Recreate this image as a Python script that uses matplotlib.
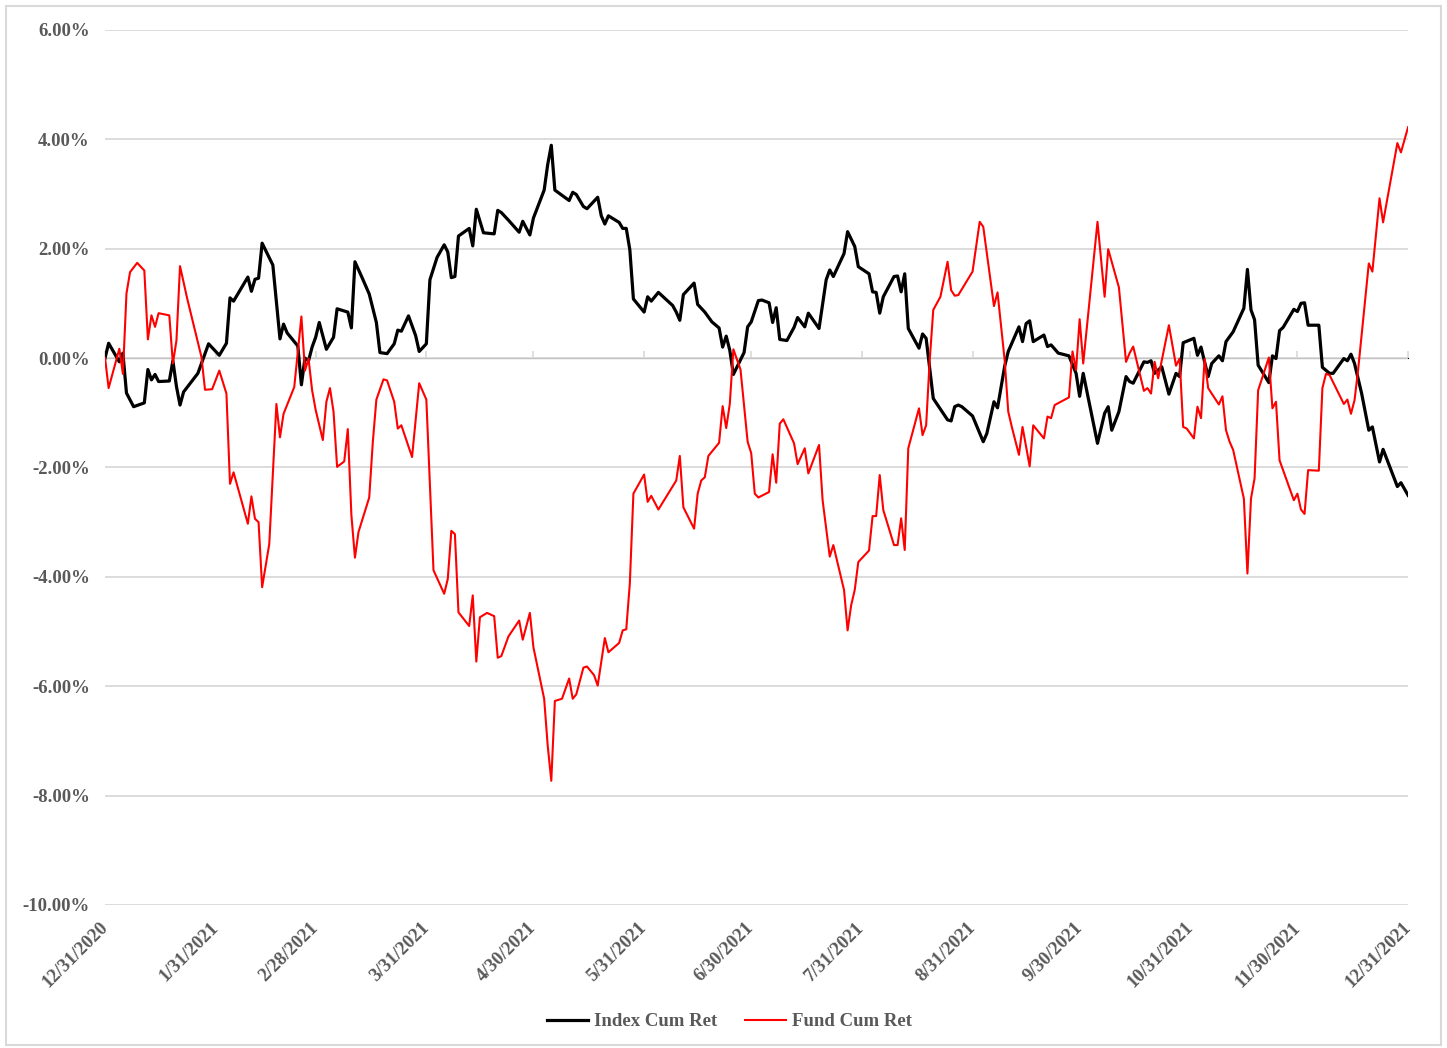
import matplotlib

matplotlib.use("Agg")

import matplotlib.dates as mdates
import matplotlib.pyplot as plt
import matplotlib.transforms as mtransforms
import pandas as pd
from matplotlib.patches import Rectangle
from matplotlib.ticker import FuncFormatter, MultipleLocator

# day offsets from 12/31/2020 and cumulative returns in percent
index_day = [
    0, 1, 4, 5, 6, 8, 11, 12, 13, 14,
    15, 18, 19, 20, 21, 22, 26, 29, 32, 34,
    35, 36, 40, 41, 42, 43, 44, 47, 49, 50,
    51, 54, 55, 56, 57, 58, 59, 60, 62, 64,
    65, 68, 69, 70, 72, 74, 76, 77, 79, 81,
    82, 83, 85, 87, 88, 90, 91, 93, 95, 96,
    97, 98, 99, 102, 103, 104, 106, 109, 110, 111,
    113, 116, 117, 119, 120, 123, 124, 125, 126, 130,
    131, 132, 134, 135, 138, 139, 140, 141, 144, 145,
    146, 147, 148, 151, 152, 153, 155, 159, 160, 161,
    162, 165, 166, 168, 170, 172, 173, 174, 175, 176,
    179, 180, 181, 183, 184, 186, 187, 188, 189, 191,
    193, 194, 196, 197, 200, 202, 203, 204, 207, 208,
    210, 211, 214, 215, 216, 217, 218, 221, 222, 223,
    224, 225, 228, 229, 230, 232, 236, 237, 238, 239,
    240, 243, 246, 247, 249, 250, 252, 253, 256, 257,
    258, 259, 260, 263, 264, 265, 267, 270, 272, 273,
    274, 278, 280, 281, 282, 284, 286, 287, 288, 291,
    292, 293, 294, 296, 298, 300, 301, 302, 305, 306,
    307, 309, 310, 312, 313, 314, 316, 319, 320, 321,
    322, 323, 326, 327, 328, 329, 330, 333, 334, 335,
    336, 337, 340, 341, 343, 344, 347, 348, 349, 350,
    352, 354, 355, 357, 358, 362, 363, 365,
]
index_ret = [
    0.00, 0.27, -0.07, 0.09, -0.64, -0.89, -0.82, -0.21, -0.40, -0.30,
    -0.43, -0.42, -0.05, -0.52, -0.86, -0.62, -0.28, 0.26, 0.05, 0.27,
    1.10, 1.04, 1.48, 1.22, 1.44, 1.46, 2.10, 1.70, 0.35, 0.62,
    0.46, 0.22, -0.49, 0.00, -0.05, 0.20, 0.38, 0.65, 0.16, 0.38,
    0.90, 0.84, 0.55, 1.76, 1.47, 1.17, 0.65, 0.10, 0.08, 0.26,
    0.51, 0.49, 0.77, 0.41, 0.12, 0.26, 1.43, 1.84, 2.07, 1.94,
    1.47, 1.49, 2.23, 2.37, 2.05, 2.72, 2.29, 2.27, 2.70, 2.66,
    2.52, 2.30, 2.50, 2.25, 2.56, 3.07, 3.54, 3.89, 3.07, 2.88,
    3.03, 2.99, 2.77, 2.73, 2.94, 2.60, 2.45, 2.60, 2.48, 2.37,
    2.37, 1.98, 1.08, 0.84, 1.12, 1.04, 1.20, 0.96, 0.84, 0.69,
    1.16, 1.37, 0.98, 0.84, 0.66, 0.55, 0.20, 0.40, 0.14, -0.30,
    0.10, 0.57, 0.66, 1.05, 1.06, 1.01, 0.65, 0.92, 0.34, 0.32,
    0.56, 0.74, 0.57, 0.82, 0.54, 1.43, 1.61, 1.49, 1.91, 2.31,
    2.04, 1.67, 1.54, 1.21, 1.20, 0.82, 1.12, 1.49, 1.50, 1.21,
    1.54, 0.54, 0.18, 0.44, 0.36, -0.74, -1.13, -1.15, -0.89, -0.86,
    -0.89, -1.06, -1.53, -1.38, -0.80, -0.91, -0.15, 0.12, 0.57, 0.30,
    0.63, 0.68, 0.30, 0.42, 0.21, 0.24, 0.09, 0.04, -0.28, -0.70,
    -0.28, -1.56, -1.01, -0.89, -1.32, -0.98, -0.34, -0.43, -0.46, -0.07,
    -0.08, -0.05, -0.28, -0.16, -0.66, -0.28, -0.34, 0.28, 0.36, 0.05,
    0.20, -0.34, -0.10, 0.04, -0.05, 0.30, 0.48, 0.91, 1.62, 0.88,
    0.70, -0.13, -0.45, 0.04, -0.01, 0.50, 0.56, 0.89, 0.85, 1.00,
    1.01, 0.60, 0.60, -0.17, -0.28, -0.28, -0.01, -0.05, 0.07, -0.10,
    -0.65, -1.32, -1.26, -1.90, -1.67, -2.35, -2.28, -2.51,
]

fund_day = [
    0, 1, 4, 5, 6, 7, 9, 11, 12, 13,
    14, 15, 18, 19, 20, 21, 23, 27, 28, 30,
    32, 34, 35, 36, 40, 41, 42, 43, 44, 46,
    48, 49, 50, 53, 55, 56, 57, 58, 59, 61,
    62, 63, 64, 65, 67, 68, 69, 70, 71, 74,
    75, 76, 78, 79, 81, 82, 83, 86, 88, 90,
    92, 95, 96, 97, 98, 99, 102, 103, 104, 105,
    107, 109, 110, 111, 113, 116, 117, 119, 120, 123,
    124, 125, 126, 128, 130, 131, 132, 134, 135, 137,
    138, 140, 141, 144, 145, 146, 147, 148, 151, 152,
    153, 155, 160, 161, 162, 165, 166, 167, 168, 169,
    172, 173, 174, 175, 176, 178, 179, 180, 181, 182,
    183, 186, 187, 188, 189, 190, 193, 194, 196, 197,
    200, 201, 203, 204, 207, 208, 209, 210, 211, 214,
    215, 216, 217, 218, 221, 222, 223, 224, 225, 228,
    229, 230, 231, 232, 234, 236, 237, 238, 239, 243,
    244, 245, 246, 249, 250, 252, 253, 254, 256, 257,
    259, 260, 263, 264, 265, 266, 270, 271, 272, 273,
    274, 278, 280, 281, 284, 286, 287, 288, 291, 292,
    293, 294, 295, 298, 300, 301, 302, 303, 305, 306,
    307, 308, 309, 312, 313, 314, 315, 316, 319, 320,
    321, 322, 323, 326, 327, 328, 329, 333, 334, 335,
    336, 337, 340, 341, 342, 343, 347, 348, 349, 350,
    351, 354, 355, 357, 358, 362, 363, 365,
]
fund_ret = [
    0.00, -0.55, 0.17, -0.29, 1.18, 1.57, 1.74, 1.60, 0.34, 0.78,
    0.57, 0.82, 0.78, -0.10, 0.32, 1.68, 1.09, 0.02, -0.58, -0.57,
    -0.23, -0.65, -2.30, -2.09, -3.03, -2.53, -2.94, -3.00, -4.19, -3.40,
    -0.84, -1.45, -1.02, -0.53, 0.76, -0.23, -0.01, -0.59, -0.95, -1.50,
    -0.80, -0.55, -0.98, -1.99, -1.89, -1.30, -2.87, -3.65, -3.18, -2.55,
    -1.54, -0.76, -0.39, -0.41, -0.80, -1.29, -1.23, -1.81, -0.46, -0.76,
    -3.88, -4.31, -4.04, -3.16, -3.22, -4.65, -4.90, -4.34, -5.55, -4.74,
    -4.66, -4.72, -5.48, -5.45, -5.09, -4.80, -5.15, -4.66, -5.29, -6.23,
    -7.09, -7.73, -6.27, -6.23, -5.86, -6.23, -6.15, -5.66, -5.64, -5.80,
    -5.99, -5.12, -5.38, -5.21, -4.98, -4.96, -4.12, -2.48, -2.13, -2.63,
    -2.52, -2.77, -2.24, -1.79, -2.73, -3.12, -2.48, -2.24, -2.18, -1.79,
    -1.55, -0.88, -1.28, -0.84, 0.16, -0.21, -0.88, -1.53, -1.74, -2.48,
    -2.55, -2.45, -1.76, -2.28, -1.20, -1.12, -1.56, -1.94, -1.65, -2.11,
    -1.59, -2.60, -3.63, -3.42, -4.24, -4.98, -4.52, -4.24, -3.73, -3.52,
    -2.89, -2.89, -2.14, -2.78, -3.42, -3.42, -2.93, -3.51, -1.65, -0.92,
    -1.41, -1.23, -0.04, 0.88, 1.12, 1.76, 1.24, 1.14, 1.15, 1.58,
    2.04, 2.49, 2.40, 0.95, 1.20, -0.04, -0.98, -1.26, -1.77, -1.26,
    -1.98, -1.23, -1.47, -1.07, -1.10, -0.86, -0.72, 0.12, -0.22, 0.71,
    -0.10, 2.49, 1.12, 1.99, 1.29, -0.07, 0.09, 0.21, -0.60, -0.55,
    -0.65, -0.07, -0.37, 0.60, -0.14, -0.01, -1.26, -1.29, -1.47, -0.89,
    -1.10, -0.02, -0.55, -0.85, -0.70, -1.32, -1.53, -1.68, -2.57, -3.94,
    -2.57, -2.20, -0.59, 0.01, -0.92, -0.80, -1.87, -2.60, -2.48, -2.77,
    -2.85, -2.05, -2.06, -0.55, -0.29, -0.31, -0.84, -0.76, -1.02, -0.77,
    -0.22, 1.73, 1.58, 2.92, 2.48, 3.93, 3.76, 4.22,
]

START = pd.Timestamp("2020-12-31")
END = pd.Timestamp("2021-12-31")
TEXT = "#595959"
GRID = "#d9d9d9"
FONT = "Liberation Serif"


def to_num(days):
    return mdates.date2num(START + pd.to_timedelta(days, unit="D"))


plt.rcParams.update({"font.family": FONT, "font.weight": "bold"})

fig = plt.figure(figsize=(14.47, 10.48), dpi=100)
ax = fig.add_axes([0.0726, 0.1365, 0.9005, 0.835])

ax.plot(to_num(index_day), index_ret, color="black", lw=2.3, label="Index Cum Ret", zorder=3)
ax.plot(to_num(fund_day), fund_ret, color="#ff0000", lw=1.5, label="Fund Cum Ret", zorder=3)

ax.set_xlim(mdates.date2num(START), mdates.date2num(END))
ax.set_ylim(-10, 6)
ax.yaxis.set_major_locator(MultipleLocator(2))
ax.yaxis.set_major_formatter(FuncFormatter(lambda v, _: f"{v:.2f}%"))
ax.grid(axis="y", color=GRID, lw=1.3)
ax.set_axisbelow(True)
for side in ["top", "right", "left", "bottom"]:
    ax.spines[side].set_visible(False)
ax.tick_params(axis="y", length=0, pad=11, labelsize=13.5, labelcolor=TEXT)

month_ends = pd.date_range(START, END, freq="ME")
tick_pos = mdates.date2num(month_ends)
tick_lbl = [f"{d.month}/{d.day}/{d.year}" for d in month_ends]
ax.set_xticks(tick_pos)
ax.set_xticklabels(tick_lbl, rotation=45, ha="right")
ax.tick_params(axis="x", length=0, pad=10, labelsize=13.5, labelcolor=TEXT)
shift = mtransforms.ScaledTranslation(6 / 100, 0, fig.dpi_scale_trans)
for lbl in ax.get_xticklabels():
    lbl.set_transform(lbl.get_transform() + shift)

# category axis crossing at 0% with small tick marks
zero_axis = ax.secondary_xaxis(10 / 16)
zero_axis.set_xticks(tick_pos, labels=[""] * len(tick_pos))
zero_axis.tick_params(length=5, width=1.2, color=GRID)
zero_axis.spines["bottom"].set_color(GRID)
zero_axis.spines["bottom"].set_linewidth(1.3)

fig.legend(
    loc="center",
    bbox_to_anchor=(0.504, 0.025),
    ncol=2,
    frameon=False,
    handlelength=2.2,
    handletextpad=0.3,
    columnspacing=1.5,
    prop={"family": FONT, "weight": "bold", "size": 13.5},
    labelcolor=TEXT,
)

fig.patches.append(
    Rectangle((0.004, 0.003), 0.992, 0.991, transform=fig.transFigure,
              fill=False, edgecolor=GRID, lw=1.5)
)

fig.savefig("out.png", dpi=100, facecolor="white")
